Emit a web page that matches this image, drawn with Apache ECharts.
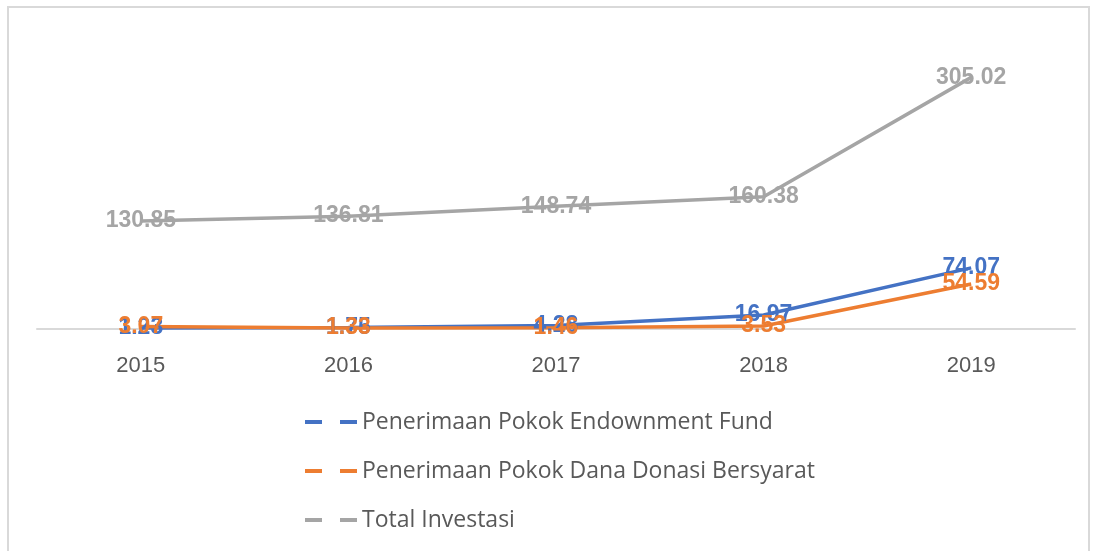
<!DOCTYPE html>
<html>
<head>
<meta charset="utf-8">
<script src="https://cdn.jsdelivr.net/npm/echarts@6/dist/echarts.min.js"></script>
<style>
html,body{margin:0;padding:0;background:#fff;}
#chart{width:1096px;height:551px;}
</style>
</head>
<body>
<div id="chart"></div>
<script>
var categories = ['2015', '2016', '2017', '2018', '2019'];
var endowment = [1.23, 1.75, 4.28, 16.97, 74.07];
var donasi = [3.07, 1.33, 1.46, 3.53, 54.59];
var total = [130.85, 136.81, 148.74, 160.38, 305.02];
var seriesNames = ['Penerimaan Pokok Endownment Fund', 'Penerimaan Pokok Dana Donasi Bersyarat', 'Total Investasi'];
var colors = ['#4472C4', '#ED7D31', '#A5A5A5'];

var chart = echarts.init(document.getElementById('chart'));
var dashIcon = 'path://M0,0h17v4h-17z M35,0h17v4h-17z';

function mk(name, data, color) {
  return {
    name: name,
    type: 'line',
    data: data,
    symbol: 'circle',
    symbolSize: 1,
    showSymbol: true,
    lineStyle: { color: color, width: 3.5 },
    itemStyle: { color: 'rgba(0,0,0,0)', borderWidth: 0 },
    label: {
      show: true,
      position: 'inside',
      color: color,
      fontFamily: 'Liberation Sans',
      fontWeight: 'bold',
      fontSize: 23,
      formatter: function (p) { return Number(p.value).toFixed(2); }
    },
    labelLayout: { hideOverlap: false },
    emphasis: { disabled: true },
    animation: false
  };
}

chart.setOption({
  animation: false,
  graphic: [{
    type: 'rect',
    shape: { x: 8, y: 7, width: 1081, height: 560 },
    style: { fill: 'none', stroke: '#D9D9D9', lineWidth: 2 },
    z: -1
  }],
  grid: { left: 37, right: 21, top: 65, height: 264, containLabel: false },
  legend: {
    orient: 'vertical',
    left: 300,
    top: 404,
    itemWidth: 52,
    itemHeight: 4,
    itemGap: 23,
    textStyle: { color: '#595959', fontFamily: 'Open Sans', fontSize: 23, lineHeight: 26 },
    data: seriesNames.map(function (n, i) { return { name: n, icon: dashIcon, itemStyle: { color: colors[i], opacity: 1 } }; })
  },
  xAxis: {
    type: 'category',
    data: categories,
    boundaryGap: true,
    axisLine: { show: true, lineStyle: { color: '#D9D9D9', width: 2 } },
    axisTick: { show: false },
    axisLabel: { color: '#595959', fontFamily: 'Liberation Sans', fontSize: 22, margin: 26 }
  },
  yAxis: {
    type: 'value',
    min: 0,
    max: 320,
    show: false,
    splitLine: { show: false }
  },
  series: [
    mk(seriesNames[0], endowment, colors[0]),
    mk(seriesNames[1], donasi, colors[1]),
    mk(seriesNames[2], total, colors[2])
  ]
});
</script>
</body>
</html>
